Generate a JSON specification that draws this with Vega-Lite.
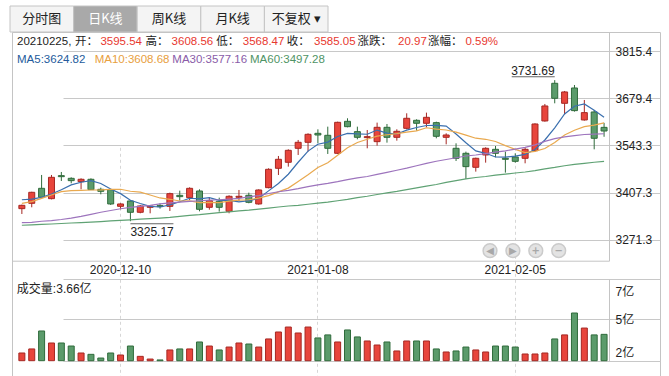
{
  "$schema": "https://vega.github.io/schema/vega-lite/v6.json",
  "width": 648,
  "height": 344,
  "autosize": {"type": "none"},
  "padding": {"left": 12, "top": 32, "right": 9, "bottom": 0},
  "background": "#ffffff",
  "config": {
    "view": {"stroke": "#c4c4c4", "strokeWidth": 1},
    "text": {"font": "Liberation Sans, Noto Sans CJK SC", "fontSize": 12},
    "axis": {"labelFont": "Liberation Sans, Noto Sans CJK SC", "labelFontSize": 12, "labelColor": "#222222", "domainColor": "#c4c4c4", "tickColor": "#c4c4c4", "gridColor": "#c8c8c8"}
  },
  "datasets": {
    "k": [
      {"date":"2020-11-26","open":3361.3,"high":3372.8,"low":3345.9,"close":3370.9,"volume":2.00,"ma5":3387.0,"ma10":3376.7,"ma30":3321,"ma60":3313.5},
      {"date":"2020-11-27","open":3376.7,"high":3410.0,"low":3365.2,"close":3408.4,"volume":2.36,"ma5":3389.0,"ma10":3381.5,"ma30":3322,"ma60":3314.5},
      {"date":"2020-11-30","open":3419.9,"high":3458.4,"low":3391.0,"close":3394.0,"volume":3.96,"ma5":3394.0,"ma10":3391.0,"ma30":3325,"ma60":3316},
      {"date":"2020-12-01","open":3390.1,"high":3458.4,"low":3388.0,"close":3451.6,"volume":2.89,"ma5":3403.6,"ma10":3400.7,"ma30":3327,"ma60":3317},
      {"date":"2020-12-02","open":3456.4,"high":3467.0,"low":3441.1,"close":3453.5,"volume":2.89,"ma5":3415.7,"ma10":3410.3,"ma30":3330,"ma60":3318.5},
      {"date":"2020-12-03","open":3448.7,"high":3451.6,"low":3434.3,"close":3442.0,"volume":2.62,"ma5":3429.9,"ma10":3413.2,"ma30":3334,"ma60":3320},
      {"date":"2020-12-04","open":3439.1,"high":3448.7,"low":3417.0,"close":3445.9,"volume":2.00,"ma5":3437.4,"ma10":3414.2,"ma30":3339,"ma60":3321},
      {"date":"2020-12-07","open":3445.9,"high":3448.7,"low":3415.1,"close":3416.1,"volume":1.88,"ma5":3441.8,"ma10":3415.1,"ma30":3345,"ma60":3322.5},
      {"date":"2020-12-08","open":3417.0,"high":3421.8,"low":3402.6,"close":3411.3,"volume":1.55,"ma5":3433.8,"ma10":3415.5,"ma30":3351,"ma60":3324},
      {"date":"2020-12-09","open":3416.1,"high":3418.0,"low":3371.9,"close":3374.8,"volume":2.00,"ma5":3418.0,"ma10":3416.9,"ma30":3356,"ma60":3326},
      {"date":"2020-12-10","open":3368.0,"high":3376.7,"low":3359.4,"close":3374.8,"volume":1.82,"ma5":3404.6,"ma10":3417.2,"ma30":3361,"ma60":3327.5},
      {"date":"2020-12-11","open":3383.4,"high":3386.3,"low":3325.17,"close":3350.8,"volume":2.62,"ma5":3385.6,"ma10":3411.5,"ma30":3365,"ma60":3329},
      {"date":"2020-12-14","open":3350.8,"high":3371.9,"low":3347.9,"close":3369.0,"volume":1.70,"ma5":3376.1,"ma10":3409.0,"ma30":3368,"ma60":3331},
      {"date":"2020-12-15","open":3365.2,"high":3370.9,"low":3347.9,"close":3369.0,"volume":1.46,"ma5":3367.7,"ma10":3400.7,"ma30":3371,"ma60":3332.5},
      {"date":"2020-12-16","open":3370.0,"high":3376.7,"low":3361.3,"close":3367.1,"volume":1.38,"ma5":3366.1,"ma10":3392.1,"ma30":3375,"ma60":3334},
      {"date":"2020-12-17","open":3368.0,"high":3407.4,"low":3354.6,"close":3404.5,"volume":2.27,"ma5":3372.1,"ma10":3388.3,"ma30":3378,"ma60":3336},
      {"date":"2020-12-18","open":3399.7,"high":3413.2,"low":3384.4,"close":3395.9,"volume":2.36,"ma5":3381.1,"ma10":3383.3,"ma30":3380,"ma60":3339},
      {"date":"2020-12-21","open":3393.0,"high":3422.8,"low":3386.3,"close":3419.9,"volume":2.36,"ma5":3391.3,"ma10":3383.7,"ma30":3382,"ma60":3342},
      {"date":"2020-12-22","open":3412.2,"high":3417.0,"low":3353.6,"close":3359.4,"volume":2.98,"ma5":3389.4,"ma10":3378.5,"ma30":3384,"ma60":3344},
      {"date":"2020-12-23","open":3365.2,"high":3394.0,"low":3358.4,"close":3384.4,"volume":2.62,"ma5":3392.8,"ma10":3379.5,"ma30":3386,"ma60":3347},
      {"date":"2020-12-24","open":3382.5,"high":3393.0,"low":3352.7,"close":3365.2,"volume":2.27,"ma5":3385.0,"ma10":3378.5,"ma30":3387,"ma60":3350},
      {"date":"2020-12-25","open":3353.6,"high":3399.8,"low":3347.9,"close":3396.9,"volume":2.53,"ma5":3385.2,"ma10":3383.1,"ma30":3389,"ma60":3352},
      {"date":"2020-12-28","open":3394.0,"high":3415.1,"low":3383.4,"close":3396.9,"volume":2.89,"ma5":3380.6,"ma10":3385.9,"ma30":3391,"ma60":3355},
      {"date":"2020-12-29","open":3399.8,"high":3407.4,"low":3376.7,"close":3379.6,"volume":2.80,"ma5":3384.6,"ma10":3387.0,"ma30":3395,"ma60":3357},
      {"date":"2020-12-30","open":3374.8,"high":3417.0,"low":3372.8,"close":3415.1,"volume":2.53,"ma5":3390.7,"ma10":3391.8,"ma30":3399,"ma60":3360},
      {"date":"2020-12-31","open":3421.8,"high":3477.6,"low":3419.9,"close":3474.7,"volume":3.25,"ma5":3412.6,"ma10":3398.8,"ma30":3405,"ma60":3363},
      {"date":"2021-01-04","open":3477.6,"high":3513.1,"low":3458.3,"close":3503.5,"volume":3.87,"ma5":3434.0,"ma10":3409.6,"ma30":3410,"ma60":3366},
      {"date":"2021-01-05","open":3494.9,"high":3532.3,"low":3482.4,"close":3529.4,"volume":4.31,"ma5":3460.5,"ma10":3420.5,"ma30":3414,"ma60":3369},
      {"date":"2021-01-06","open":3535.2,"high":3559.2,"low":3516.0,"close":3552.5,"volume":3.78,"ma5":3495.0,"ma10":3439.8,"ma30":3419,"ma60":3371},
      {"date":"2021-01-07","open":3552.5,"high":3578.4,"low":3525.6,"close":3575.5,"volume":4.31,"ma5":3527.1,"ma10":3458.9,"ma30":3425,"ma60":3374},
      {"date":"2021-01-08","open":3578.4,"high":3589.9,"low":3549.6,"close":3573.6,"volume":3.34,"ma5":3546.9,"ma10":3479.8,"ma30":3430,"ma60":3377},
      {"date":"2021-01-11","open":3572.7,"high":3597.6,"low":3518.9,"close":3535.2,"volume":3.61,"ma5":3553.2,"ma10":3493.6,"ma30":3434,"ma60":3380},
      {"date":"2021-01-12","open":3520.8,"high":3612.0,"low":3518.9,"close":3610.1,"volume":2.98,"ma5":3569.4,"ma10":3514.9,"ma30":3439,"ma60":3384},
      {"date":"2021-01-13","open":3613.0,"high":3621.7,"low":3595.7,"close":3597.6,"volume":4.05,"ma5":3578.4,"ma10":3536.7,"ma30":3445,"ma60":3388},
      {"date":"2021-01-14","open":3583.2,"high":3597.6,"low":3561.1,"close":3566.9,"volume":3.43,"ma5":3576.7,"ma10":3551.9,"ma30":3450,"ma60":3393},
      {"date":"2021-01-15","open":3566.0,"high":3588.0,"low":3535.2,"close":3568.8,"volume":3.07,"ma5":3575.7,"ma10":3561.3,"ma30":3454,"ma60":3397},
      {"date":"2021-01-18","open":3554.4,"high":3609.2,"low":3542.9,"close":3595.7,"volume":2.71,"ma5":3587.8,"ma10":3570.5,"ma30":3460,"ma60":3402},
      {"date":"2021-01-19","open":3595.7,"high":3605.3,"low":3551.5,"close":3566.9,"volume":2.98,"ma5":3579.2,"ma10":3574.3,"ma30":3466,"ma60":3407},
      {"date":"2021-01-20","open":3566.9,"high":3590.0,"low":3557.3,"close":3584.2,"volume":2.18,"ma5":3576.5,"ma10":3577.5,"ma30":3472,"ma60":3411},
      {"date":"2021-01-21","open":3592.8,"high":3636.1,"low":3590.0,"close":3621.7,"volume":3.07,"ma5":3587.5,"ma10":3582.1,"ma30":3478,"ma60":3416},
      {"date":"2021-01-22","open":3615.9,"high":3618.8,"low":3586.1,"close":3607.3,"volume":3.07,"ma5":3595.2,"ma10":3585.4,"ma30":3485,"ma60":3421},
      {"date":"2021-01-25","open":3607.3,"high":3638.0,"low":3595.7,"close":3624.5,"volume":3.07,"ma5":3600.9,"ma10":3594.4,"ma30":3492,"ma60":3426},
      {"date":"2021-01-26","open":3609.2,"high":3612.0,"low":3564.0,"close":3569.8,"volume":2.36,"ma5":3601.5,"ma10":3590.3,"ma30":3498,"ma60":3431},
      {"date":"2021-01-27","open":3566.9,"high":3578.4,"low":3546.7,"close":3573.6,"volume":2.09,"ma5":3599.4,"ma10":3587.9,"ma30":3503,"ma60":3437},
      {"date":"2021-01-28","open":3535.2,"high":3549.6,"low":3498.7,"close":3506.4,"volume":2.18,"ma5":3576.3,"ma10":3581.9,"ma30":3508,"ma60":3442},
      {"date":"2021-01-29","open":3520.8,"high":3525.6,"low":3446.8,"close":3482.4,"volume":2.53,"ma5":3551.3,"ma10":3573.3,"ma30":3513,"ma60":3447},
      {"date":"2021-02-01","open":3480.5,"high":3508.3,"low":3468.0,"close":3506.4,"volume":2.27,"ma5":3527.7,"ma10":3564.3,"ma30":3516,"ma60":3451},
      {"date":"2021-02-02","open":3516.0,"high":3538.1,"low":3493.9,"close":3535.2,"volume":2.09,"ma5":3520.8,"ma10":3561.2,"ma30":3520,"ma60":3454},
      {"date":"2021-02-03","open":3532.3,"high":3541.9,"low":3509.3,"close":3520.8,"volume":2.62,"ma5":3510.2,"ma10":3554.8,"ma30":3524,"ma60":3458},
      {"date":"2021-02-04","open":3506.4,"high":3525.6,"low":3465.1,"close":3503.5,"volume":2.62,"ma5":3509.7,"ma10":3543.0,"ma30":3528,"ma60":3461},
      {"date":"2021-02-05","open":3510.2,"high":3520.8,"low":3493.9,"close":3497.7,"volume":2.53,"ma5":3512.7,"ma10":3532.0,"ma30":3533,"ma60":3464},
      {"date":"2021-02-08","open":3506.4,"high":3538.1,"low":3492.0,"close":3532.3,"volume":1.91,"ma5":3517.9,"ma10":3522.8,"ma30":3538,"ma60":3467},
      {"date":"2021-02-09","open":3528.5,"high":3607.3,"low":3525.6,"close":3605.3,"volume":1.91,"ma5":3531.9,"ma10":3526.4,"ma30":3545,"ma60":3471},
      {"date":"2021-02-10","open":3614.0,"high":3663.0,"low":3612.1,"close":3657.2,"volume":2.00,"ma5":3559.2,"ma10":3534.7,"ma30":3555,"ma60":3476},
      {"date":"2021-02-18","open":3722.6,"high":3731.69,"low":3664.9,"close":3679.3,"volume":3.25,"ma5":3594.4,"ma10":3552.0,"ma30":3563,"ma60":3480},
      {"date":"2021-02-19","open":3664.9,"high":3700.5,"low":3633.2,"close":3697.6,"volume":3.61,"ma5":3634.3,"ma10":3573.5,"ma30":3568,"ma60":3485},
      {"date":"2021-02-22","open":3709.1,"high":3717.7,"low":3640.9,"close":3643.8,"volume":5.56,"ma5":3656.6,"ma10":3587.3,"ma30":3572,"ma60":3489},
      {"date":"2021-02-23","open":3616.9,"high":3674.5,"low":3615.0,"close":3638.0,"volume":4.22,"ma5":3663.2,"ma10":3597.6,"ma30":3575,"ma60":3492},
      {"date":"2021-02-24","open":3639.9,"high":3645.7,"low":3532.3,"close":3564.08,"volume":3.61,"ma5":3644.6,"ma10":3601.9,"ma30":3576,"ma60":3495},
      {"date":"2021-02-25","open":3595.54,"high":3608.56,"low":3568.47,"close":3585.05,"volume":3.66,"ma5":3624.82,"ma10":3608.68,"ma30":3577.16,"ma60":3497.28}
    ],
    "tabs": [
      {"tab": "分时图", "on": false},
      {"tab": "日K线", "on": true},
      {"tab": "周K线", "on": false},
      {"tab": "月K线", "on": false},
      {"tab": "不复权 ▾", "on": false}
    ],
    "head": [{"t": "20210225,"}],
    "quote": [
      {"k": "开：", "v": "3595.54"},
      {"k": "高：", "v": "3608.56"},
      {"k": "低：", "v": "3568.47"},
      {"k": "收：", "v": "3585.05"},
      {"k": "涨跌：", "v": "20.97"},
      {"k": "涨幅：", "v": "0.59%"}
    ],
    "maLegend": [
      {"ma": "ma5", "label": "MA5:3624.82"},
      {"ma": "ma10", "label": "MA10:3608.68"},
      {"ma": "ma30", "label": "MA30:3577.16"},
      {"ma": "ma60", "label": "MA60:3497.28"}
    ],
    "extreme": [
      {"date": "2021-02-18", "price": 3731.69, "kind": "high"},
      {"date": "2020-12-11", "price": 3325.17, "kind": "low"}
    ],
    "buttons": [
      {"b": "prev", "glyph": "◀"},
      {"b": "next", "glyph": "▶"},
      {"b": "in", "glyph": "+"},
      {"b": "out", "glyph": "−"}
    ]
  },
  "resolve": {
    "scale": {"x": "independent", "y": "independent", "color": "independent"},
    "axis": {"x": "independent", "y": "independent"}
  },
  "layer": [
    {
      "data": {"name": "tabs"},
      "encoding": {
        "x": {"field": "tab", "type": "nominal", "sort": null, "scale": {"type": "band", "range": [-2, 316], "paddingInner": 0, "paddingOuter": 0}, "axis": null},
        "y": {"datum": "tabs", "type": "nominal", "scale": {"type": "band", "range": [-26, 0], "paddingInner": 0, "paddingOuter": 0}, "axis": null}
      },
      "layer": [
        {
          "mark": {"type": "rect", "stroke": "#c4c4c4", "strokeWidth": 1},
          "encoding": {"fill": {"condition": {"test": "datum.on", "value": "#a9a9a9"}, "value": "#f4f4f4"}}
        },
        {
          "mark": {"type": "text", "fontSize": 13, "font": "Noto Sans CJK SC, Liberation Sans"},
          "encoding": {
            "text": {"field": "tab"},
            "color": {"condition": {"test": "datum.on", "value": "#ffffff"}, "value": "#222222"}
          }
        }
      ]
    },
    {
      "data": {"name": "head"},
      "mark": {"type": "text", "align": "left", "color": "#222222", "fontSize": 11.5},
      "encoding": {
        "x": {"field": "t", "type": "nominal", "scale": {"type": "point", "range": [5, 5], "padding": 0}, "axis": null},
        "y": {"datum": "l1", "type": "nominal", "scale": {"type": "point", "domain": ["l1", "l2"], "range": [10, 28], "padding": 0}, "axis": null},
        "text": {"field": "t"}
      }
    },
    {
      "data": {"name": "quote"},
      "mark": {"type": "text", "align": "left", "color": "#222222", "fontSize": 11.5},
      "encoding": {
        "x": {"field": "k", "type": "nominal", "sort": null, "scale": {"type": "point", "range": [63, 416], "padding": 0}, "axis": null},
        "y": {"datum": "l1", "type": "nominal", "scale": {"type": "point", "domain": ["l1", "l2"], "range": [10, 28], "padding": 0}, "axis": null},
        "text": {"field": "k"}
      }
    },
    {
      "data": {"name": "quote"},
      "mark": {"type": "text", "align": "right", "color": "#e8382f", "fontSize": 11.5},
      "encoding": {
        "x": {"field": "v", "type": "nominal", "sort": null, "scale": {"type": "point", "range": [130, 486], "padding": 0}, "axis": null},
        "y": {"datum": "l1", "type": "nominal", "scale": {"type": "point", "domain": ["l1", "l2"], "range": [10, 28], "padding": 0}, "axis": null},
        "text": {"field": "v"}
      }
    },
    {
      "data": {"name": "maLegend"},
      "mark": {"type": "text", "align": "left", "fontSize": 11.5},
      "encoding": {
        "x": {"field": "ma", "type": "nominal", "sort": null, "scale": {"type": "point", "range": [5, 238], "padding": 0}, "axis": null},
        "y": {"datum": "l2", "type": "nominal", "scale": {"type": "point", "domain": ["l1", "l2"], "range": [10, 28], "padding": 0}, "axis": null},
        "color": {"field": "ma", "type": "nominal", "scale": {"domain": ["ma5", "ma10", "ma30", "ma60"], "range": ["#245b9c", "#e8a040", "#8a5ca8", "#4f9465"]}, "legend": null},
        "text": {"field": "label"}
      }
    },
    {
      "data": {"name": "k"},
      "layer": [
        {
          "mark": {"type": "rule", "strokeWidth": 1},
          "encoding": {
            "x": {"field": "date", "type": "ordinal",
                  "scale": {"type": "band", "range": [0, 597], "paddingInner": 0, "paddingOuter": 0.25, "align": 1},
                  "axis": {"orient": "bottom", "offset": -115.3, "values": ["2020-12-10", "2021-01-08", "2021-02-05"], "title": null, "ticks": false, "labelAngle": 0, "labelPadding": 4, "grid": true, "gridDash": [3, 3], "gridColor": "#d6d6d6", "labelOverlap": false}},
            "y": {"field": "low", "type": "quantitative",
                  "scale": {"domain": [3211.3, 3870.4], "range": [228.7, 0], "zero": false, "nice": false},
                  "axis": {"orient": "right", "offset": -51, "values": [3271.3, 3407.3, 3543.3, 3679.4, 3815.4], "format": ".1f", "title": null, "grid": true, "tickSize": 3, "labelPadding": 3, "labelOverlap": false}},
            "y2": {"field": "high"},
            "color": {"condition": {"test": "datum.close >= datum.open", "value": "#a52722"}, "value": "#2f6b3b"}
          }
        },
        {
          "mark": {"type": "bar", "width": 6, "strokeWidth": 1},
          "encoding": {
            "x": {"field": "date", "type": "ordinal"},
            "y": {"field": "open", "type": "quantitative"},
            "y2": {"field": "close"},
            "fill": {"condition": {"test": "datum.close >= datum.open", "value": "#e8453c"}, "value": "#5b9b6b"},
            "stroke": {"condition": {"test": "datum.close >= datum.open", "value": "#a52722"}, "value": "#2f6b3b"}
          }
        },
        {
          "transform": [{"fold": ["ma5", "ma10", "ma30", "ma60"], "as": ["ma", "value"]}],
          "mark": {"type": "line", "strokeWidth": 1.2},
          "encoding": {
            "x": {"field": "date", "type": "ordinal"},
            "y": {"field": "value", "type": "quantitative"},
            "color": {"field": "ma", "type": "nominal", "scale": {"domain": ["ma5", "ma10", "ma30", "ma60"], "range": ["#3a6fae", "#e9a94f", "#9d74bd", "#5fa274"]}, "legend": null}
          }
        },
        {
          "data": {"name": "extreme"},
          "transform": [{"filter": "datum.kind == 'high'"}],
          "layer": [
            {
              "mark": {"type": "text", "align": "right", "baseline": "alphabetic", "dy": -5, "color": "#222222"},
              "encoding": {
                "x": {"field": "date", "type": "ordinal"},
                "y": {"field": "price", "type": "quantitative"},
                "text": {"field": "price", "type": "quantitative", "format": ".2f"}
              }
            },
            {
              "mark": {"type": "tick", "orient": "horizontal", "size": 43, "thickness": 1, "xOffset": -21.5, "yOffset": -3.5, "color": "#222222"},
              "encoding": {
                "x": {"field": "date", "type": "ordinal"},
                "y": {"field": "price", "type": "quantitative"}
              }
            }
          ]
        },
        {
          "data": {"name": "extreme"},
          "transform": [{"filter": "datum.kind == 'low'"}],
          "layer": [
            {
              "mark": {"type": "text", "align": "left", "baseline": "alphabetic", "dy": 15, "color": "#222222"},
              "encoding": {
                "x": {"field": "date", "type": "ordinal"},
                "y": {"field": "price", "type": "quantitative"},
                "text": {"field": "price", "type": "quantitative", "format": ".2f"}
              }
            },
            {
              "mark": {"type": "tick", "orient": "horizontal", "size": 43, "thickness": 1, "xOffset": 21.5, "yOffset": 2.5, "color": "#222222"},
              "encoding": {
                "x": {"field": "date", "type": "ordinal"},
                "y": {"field": "price", "type": "quantitative"}
              }
            }
          ]
        }
      ]
    },
    {
      "data": {"name": "k"},
      "layer": [
        {
          "mark": {"type": "bar", "width": 6, "strokeWidth": 1},
          "encoding": {
            "x": {"field": "date", "type": "ordinal",
                  "scale": {"type": "band", "range": [0, 597], "paddingInner": 0, "paddingOuter": 0.25, "align": 1},
                  "axis": null},
            "y": {"field": "volume", "type": "quantitative",
                  "scale": {"domain": [1.313, 8.562], "range": [328.7, 247.3], "zero": false, "nice": false, "clamp": true},
                  "axis": {"orient": "right", "offset": -51, "values": [1.313, 2, 5, 7, 8.562], "title": null,
                           "labelExpr": "datum.value == 2 ? '2亿' : datum.value == 5 ? '5亿' : datum.value == 7 ? '7亿' : ''",
                           "labelOffset": {"condition": {"test": "datum.value == 7", "value": -5}, "value": 0},
                           "grid": true,
                           "gridColor": {"condition": {"test": "datum.value == 2 || datum.value == 7", "value": "transparent"}, "value": "#c8c8c8"},
                           "tickColor": {"condition": {"test": "datum.value == 5", "value": "#c4c4c4"}, "value": "transparent"},
                           "tickSize": 3, "labelPadding": 3, "labelOverlap": false}},
            "y2": {"datum": 0},
            "fill": {"condition": {"test": "datum.close >= datum.open", "value": "#e8453c"}, "value": "#5b9b6b"},
            "stroke": {"condition": {"test": "datum.close >= datum.open", "value": "#a52722"}, "value": "#2f6b3b"}
          }
        },
        {
          "data": {"values": [{"label": "成交量:3.66亿"}]},
          "mark": {"type": "text", "align": "left", "dx": -5, "dy": 10, "color": "#222222"},
          "encoding": {
            "x": {"datum": "2020-11-26", "type": "ordinal"},
            "y": {"datum": 8.562, "type": "quantitative"},
            "text": {"field": "label"}
          }
        }
      ]
    },
    {
      "data": {"name": "buttons"},
      "encoding": {
        "x": {"field": "b", "type": "nominal", "sort": null, "scale": {"type": "point", "range": [478, 546.7], "padding": 0}, "axis": null},
        "y": {"datum": "btn", "type": "nominal", "scale": {"type": "point", "range": [218.7, 218.7], "padding": 0}, "axis": null}
      },
      "layer": [
        {"mark": {"type": "point", "shape": "circle", "filled": true, "size": 190, "fill": "#e3e3e3", "stroke": "#cbcbcb", "strokeWidth": 1.5, "opacity": 1}},
        {"mark": {"type": "text", "fontSize": 10, "color": "#a8a8a8", "fontWeight": "bold", "font": "DejaVu Sans"}, "encoding": {"text": {"field": "glyph"}}}
      ]
    }
  ]
}
